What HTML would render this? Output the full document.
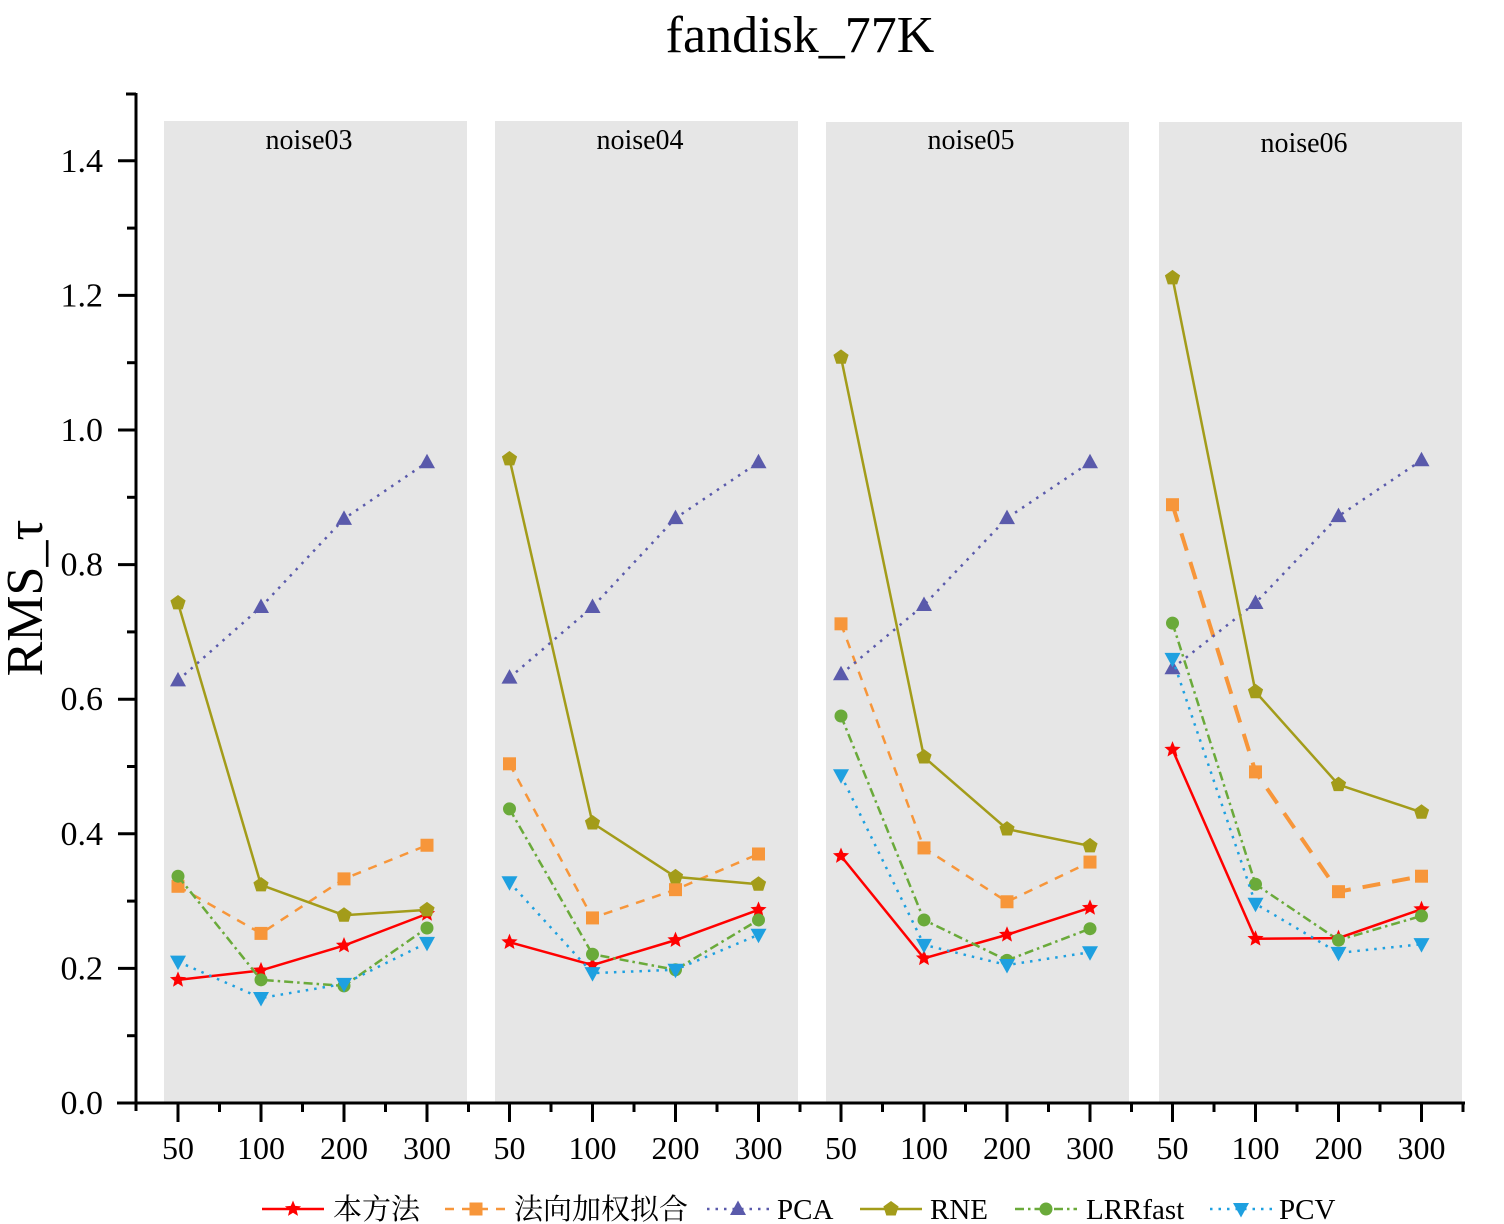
<!DOCTYPE html>
<html><head><meta charset="utf-8"><style>
html,body{margin:0;padding:0;background:#fff;}
svg{display:block;font-family:"Liberation Serif","Noto Serif CJK SC",serif;}
</style></head><body>
<svg id="chart" width="1504" height="1224" viewBox="0 0 1504 1224" xmlns="http://www.w3.org/2000/svg">
<text x="800" y="52" font-size="52" text-anchor="middle">fandisk_77K</text>
<text transform="translate(42,598) rotate(-90)" font-size="52" text-anchor="middle">RMS_τ</text>
<g id="panels"></g><g id="series"></g><g id="axes"></g><g id="legend"></g>
</svg>
<script>
const panelNames = ["noise03","noise04","noise05","noise06"];
const categories = ["50","100","200","300"];
const yTicks = [0.0,0.2,0.4,0.6,0.8,1.0,1.2,1.4];
const seriesNames = ["本方法","法向加权拟合","PCA","RNE","LRRfast","PCV"];
const sOurs = [[0.183,0.197,0.234,0.281],[0.239,0.205,0.242,0.287],[0.367,0.215,0.250,0.290],[0.525,0.244,0.245,0.288]];
const sNormal = [[0.322,0.252,0.333,0.383],[0.504,0.275,0.317,0.370],[0.712,0.379,0.299,0.358],[0.889,0.492,0.314,0.337]];
const sPCA = [[0.628,0.737,0.868,0.952],[0.632,0.737,0.869,0.952],[0.637,0.740,0.869,0.952],[0.646,0.743,0.872,0.955]];
const sRNE = [[0.743,0.324,0.279,0.287],[0.957,0.416,0.336,0.325],[1.108,0.514,0.407,0.382],[1.226,0.611,0.473,0.432]];
const sLRR = [[0.337,0.183,0.174,0.260],[0.437,0.221,0.198,0.272],[0.575,0.272,0.212,0.259],[0.713,0.325,0.242,0.278]];
const sPCV = [[0.210,0.156,0.177,0.238],[0.328,0.193,0.198,0.250],[0.487,0.235,0.205,0.224],[0.660,0.296,0.223,0.236]];

const NS="http://www.w3.org/2000/svg";
function mk(tag,attrs,parent){const e=document.createElementNS(NS,tag);for(const k in attrs)e.setAttribute(k,attrs[k]);parent.appendChild(e);return e;}
const y0=1103, pxPerUnit=673;
function yS(v){return y0-v*pxPerUnit;}
function xS(p,i){return 178+p*331.5+i*83;}

const styles=[
 {c:"#ff0000",dash:"",w:2.5,m:"star"},
 {c:"#f7963a",dash:"9,8",w:2.5,m:"square"},
 {c:"#5a5aab",dash:"2.5,6",w:2.5,m:"tri"},
 {c:"#a39c1a",dash:"",w:2.5,m:"pent"},
 {c:"#6aaa3a",dash:"9,4,2.5,4",w:2.5,m:"circle"},
 {c:"#1ea0e0",dash:"2.5,6",w:2.5,m:"tridown"}];
const allSeries=[sOurs,sNormal,sPCA,sRNE,sLRR,sPCV];

function marker(type,x,y,c,parent){
 let e;
 if(type==="circle") e=mk("circle",{cx:x,cy:y,r:6.5,fill:c},parent);
 else if(type==="square") e=mk("rect",{x:x-6.5,y:y-6.5,width:13,height:13,fill:c},parent);
 else{
  let pts=[];
  if(type==="tri") pts=[[0,-8.5],[8,6],[-8,6]];
  else if(type==="tridown") pts=[[0,8.5],[8,-6],[-8,-6]];
  else if(type==="pent"){for(let k=0;k<5;k++){const a=-Math.PI/2+k*2*Math.PI/5;pts.push([8*Math.cos(a),8*Math.sin(a)]);}}
  else if(type==="star"){for(let k=0;k<10;k++){const a=-Math.PI/2+k*Math.PI/5;const r=(k%2)?3.8:8.5;pts.push([r*Math.cos(a),r*Math.sin(a)]);}}
  e=mk("polygon",{points:pts.map(p=>(x+p[0])+","+(y+p[1])).join(" "),fill:c},parent);
 }
 return e;
}

const gp=document.getElementById("panels");
const starts=[164,495,826,1159], tops=[121,121,122,122];
panelNames.forEach((n,p)=>{
 const r=mk("rect",{x:starts[p],y:tops[p],width:303,height:y0-tops[p],fill:"#e6e6e6"},gp);
 
 
 const t=mk("text",{x:starts[p]+145,y:149+(p===3?3:0),"font-size":28,"text-anchor":"middle"},gp);
 t.textContent=n;
 
 
});

const gs=document.getElementById("series");
allSeries.forEach((s,si)=>{
 const st=styles[si];
 s.forEach((vals,p)=>{
  const pts=vals.map((v,i)=>xS(p,i)+","+yS(v)).join(" ");
  const w=(si===1&&p===3)?4:st.w;
  const dash=(si===1&&p===3)?"18,12":st.dash;
  const l=mk("polyline",{points:pts,fill:"none",stroke:st.c,"stroke-width":w,"stroke-dasharray":dash},gs);
  
  
  vals.forEach((v,i)=>{
   const m=marker(st.m,xS(p,i),yS(v),st.c,gs);
   
   
  });
 });
});

const ga=document.getElementById("axes");
const ya=mk("line",{x1:136,y1:93,x2:136,y2:1111,stroke:"#000","stroke-width":3},ga);


const xa=mk("line",{x1:117,y1:y0,x2:1465,y2:y0,stroke:"#000","stroke-width":3},ga);


mk("line",{x1:126,y1:94,x2:136,y2:94,stroke:"#000","stroke-width":3},ga);
yTicks.forEach(v=>{
 mk("line",{x1:118,y1:yS(v),x2:136,y2:yS(v),stroke:"#000","stroke-width":3},ga);
 if(v<1.4) mk("line",{x1:127,y1:yS(v+0.1),x2:136,y2:yS(v+0.1),stroke:"#000","stroke-width":3},ga);
 const t=mk("text",{x:103,y:yS(v)+11,"font-size":34,"text-anchor":"end"},ga);
 t.textContent=v.toFixed(1);
 
 
});
panelNames.forEach((n,p)=>{
 categories.forEach((c,i)=>{
  const x=xS(p,i);
  mk("line",{x1:x,y1:y0,x2:x,y2:1122,stroke:"#000","stroke-width":3},ga);
  mk("line",{x1:x+41.5,y1:y0,x2:x+41.5,y2:1112,stroke:"#000","stroke-width":3},ga);
  const t=mk("text",{x:x,y:1159,"font-size":32,"text-anchor":"middle"},ga);
  t.textContent=c;
  
  
 });
});

const gl=document.getElementById("legend");
const legX=[262,445,707,860,1015,1210], legT=[333,514,777,930,1086,1279];
seriesNames.forEach((n,si)=>{
 const st=styles[si];
 const g=mk("g",{},gl);
 
 
 mk("line",{x1:legX[si],y1:1209,x2:legX[si]+62,y2:1209,stroke:st.c,"stroke-width":2.5,"stroke-dasharray":st.dash},g);
 marker(st.m,legX[si]+31,1209,st.c,g);
 const t=mk("text",{x:legT[si],y:1219,"font-size":29},g);
 t.textContent=n;
});
</script>
</body></html>
